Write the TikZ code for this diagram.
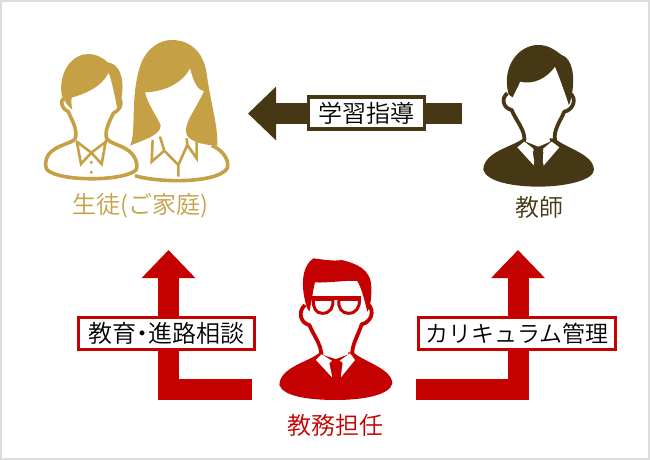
\documentclass[tikz,border=0pt]{standalone}
\usepackage{fontspec}
\setmainfont{Noto Sans CJK JP DemiLight}
\usetikzlibrary{arrows.meta}
\definecolor{gold}{HTML}{C5A045}
\definecolor{dark}{HTML}{463815}
\definecolor{crim}{HTML}{C50000}
\definecolor{frame}{HTML}{DDDDDD}
\tikzset{
 lbl/.style={font=\fontsize{24}{26}\selectfont,inner sep=0pt},
 tagbox/.style={draw=#1,line width=3.2pt,fill=white,inner sep=0pt,minimum height=32pt,font=\fontsize{24}{26}\selectfont,text=black},
 block/.style={draw=#1,line width=21pt,line join=miter,-{Triangle[length=28pt,width=52pt,#1,fill=#1]}},
 icon/.style={x=0.3333pt,y=-0.3333pt},
}
\begin{document}
\begin{tikzpicture}[x=1pt,y=-1pt]
\useasboundingbox (0,0) rectangle (650,460);
\draw[frame,line width=2pt] (1,1) rectangle (649,459);

\coordinate (a1) at (462,113.5); \coordinate (a2) at (248,113.5);
\coordinate (b1) at (252,389.5); \coordinate (b2) at (168.5,250);
\coordinate (c1) at (416,389.5); \coordinate (c2) at (518,250);
\draw[block=dark] (a1) -- (a2);
\draw[block=crim] (b1) -| (b2);
\draw[block=crim] (c1) -| (c2);
\node[tagbox=dark,minimum width=116pt] (t1) at (366.5,113) {学習指導};
\node[tagbox=crim,minimum width=176pt] (t2) at (166.5,333.5) {教育\hspace{-6pt}・\hspace{-6pt}進路相談};
\node[tagbox=crim,minimum width=197pt] (t3) at (517,333.5) {\fontsize{23}{25}\selectfont カリキュラム管理};

% students
\begin{scope}[shift={(30,30)},icon]
 % boy
 \draw[gold,line width=3.6pt,line join=round]
  (135,328) .. controls (120,342) and (60,350) .. (50,385) .. controls (45,400) and (46,412) .. (52,420)
  .. controls (90,455) and (280,455) .. (318,420) .. controls (325,405) and (318,375) .. (290,358)
  .. controls (270,345) and (240,340) .. (230,325) .. controls (222,305) and (240,270) .. (250,250)
  .. controls (268,240) and (280,225) .. (268,205)
  (100,205) .. controls (88,215) and (98,240) .. (115,245) .. controls (125,270) and (145,300) .. (135,328);
 \fill[gold] (95,195) .. controls (85,120) and (130,72) .. (175,72) .. controls (200,72) and (220,85) .. (235,98)
  .. controls (265,100) and (285,140) .. (275,200) .. controls (274,215) and (268,225) .. (262,237)
  .. controls (255,200) and (245,150) .. (236,128) .. controls (215,170) and (170,190) .. (125,203)
  .. controls (123,215) and (125,228) .. (127,240) .. controls (118,230) and (100,215) .. cycle;
 \draw[gold,line width=2.6pt,line join=miter] (140,332) -- (153,402) -- (184,368) -- (215,402) -- (228,330) (140,335)-- (184,368) -- (228,335);
 \fill[gold] (184,397) circle (5) (184,427) circle (5);
 % girl
 \fill[gold] (300,347) .. controls (320,310) and (300,200) .. (330,110) .. controls (345,60) and (385,30) .. (425,30)
  .. controls (480,30) and (520,65) .. (530,130) .. controls (540,210) and (565,290) .. (562,347)
  .. controls (530,345) and (490,340) .. (472,318) .. controls (455,285) and (495,245) .. (522,183)
  .. controls (500,180) and (490,150) .. (480,115) .. controls (460,155) and (410,185) .. (345,187)
  .. controls (355,225) and (375,250) .. (392,285) .. controls (395,315) and (340,330) .. cycle;
 \draw[gold,line width=3.6pt,line join=round]
  (315,437) .. controls (380,458) and (560,462) .. (592,415) .. controls (600,385) and (570,355) .. (545,347);
 \draw[gold,line width=2.6pt,line join=miter] (368,330) -- (365,395) -- (403,362) -- (390,320)
  (403,362) -- (445,405) -- (472,345) -- (500,385) -- (500,335) (472,345)--(470,325) (445,405) -- (445,440);
\end{scope}

% teacher
\begin{scope}[shift={(470,30)},icon]
 \fill[dark] (160,325) .. controls (130,350) and (40,365) .. (40,420) .. controls (50,455) and (130,470) .. (205,470)
  .. controls (290,470) and (370,450) .. (372,420) .. controls (370,370) and (285,355) .. (255,325) -- cycle;
 \draw[dark,line width=3.8pt,line join=round] (163,330) .. controls (165,300) and (140,275) .. (125,240)
  .. controls (100,235) and (92,205) .. (112,190)
  (255,330) .. controls (250,300) and (270,275) .. (283,245) .. controls (310,240) and (322,205) .. (300,190);
 \fill[dark] (115,190) .. controls (95,110) and (145,45) .. (205,45) .. controls (240,45) and (260,65) .. (275,75)
  .. controls (310,85) and (315,150) .. (305,195) .. controls (302,210) and (300,220) .. (297,225)
  .. controls (285,190) and (268,140) .. (255,110) .. controls (230,145) and (190,165) .. (150,155)
  .. controls (145,170) and (135,185) .. (128,202) .. controls (122,200) and (118,195) .. cycle;
 \fill[white] (142,352) -- (163,335) -- (195,360) -- (188,365) -- (195,410) -- cycle;
 \fill[white] (268,352) -- (245,335) -- (215,360) -- (220,365) -- (218,410) -- cycle;
 \fill[white] (168,335) -- (205,350) -- (240,335) -- (238,322) -- (170,322) -- cycle;
 \fill[dark] (190,358) -- (205,350) -- (220,358) -- (213,378) -- (222,410) -- (190,410) -- (198,378) -- cycle;
\end{scope}

% manager
\begin{scope}[shift={(270,245)},icon]
 \fill[crim] (150,322) .. controls (120,350) and (30,365) .. (28,420) .. controls (40,455) and (120,465) .. (198,465)
  .. controls (280,465) and (360,450) .. (367,415) .. controls (365,370) and (280,350) .. (250,322) -- cycle;
 \draw[crim,line width=3.8pt,line join=round] (153,328) .. controls (155,300) and (130,270) .. (118,240)
  .. controls (92,235) and (82,200) .. (105,180)
  (247,328) .. controls (245,300) and (265,270) .. (275,238) .. controls (302,232) and (316,200) .. (295,178);
 \fill[crim] (107,175) .. controls (90,110) and (100,60) .. (130,40) .. controls (150,42) and (190,50) .. (215,45)
  .. controls (255,55) and (305,70) .. (304,130) .. controls (305,160) and (300,190) .. (292,200)
  .. controls (285,170) and (275,130) .. (262,108) .. controls (225,105) and (170,115) .. (135,112)
  .. controls (130,130) and (128,150) .. (125,165) -- (118,200) .. controls (112,190) and (108,185) .. cycle;
 \draw[crim,line width=3.6pt] (122,159) -- (272,159);
 \draw[crim,line width=3pt,fill=white] (130,163) -- (188,163) .. controls (192,188) and (180,205) .. (157,205) .. controls (138,205) and (128,188) .. cycle;
 \draw[crim,line width=3pt,fill=white] (207,163) -- (268,163) .. controls (270,188) and (258,205) .. (235,205) .. controls (215,205) and (203,188) .. cycle;
 \fill[white] (138,345) -- (155,328) -- (190,350) -- (178,355) -- (187,398) -- cycle;
 \fill[white] (255,345) -- (240,325) -- (205,350) -- (218,355) -- (212,398) -- cycle;
 \fill[white] (160,330) -- (197,342) -- (235,328) -- (233,315) -- (160,315) -- cycle;
 \fill[crim] (180,352) -- (197,342) -- (217,352) -- (207,370) -- (215,402) -- (185,402) -- (192,370) -- cycle;
\end{scope}

\node[lbl,text=gold] (s) at (140,206) {生徒(ご家庭)};
\node[lbl,text=dark] (k) at (539,207) {教師};
\node[lbl,text=crim] (m) at (335,425) {教務担任};
\end{tikzpicture}
\end{document}
